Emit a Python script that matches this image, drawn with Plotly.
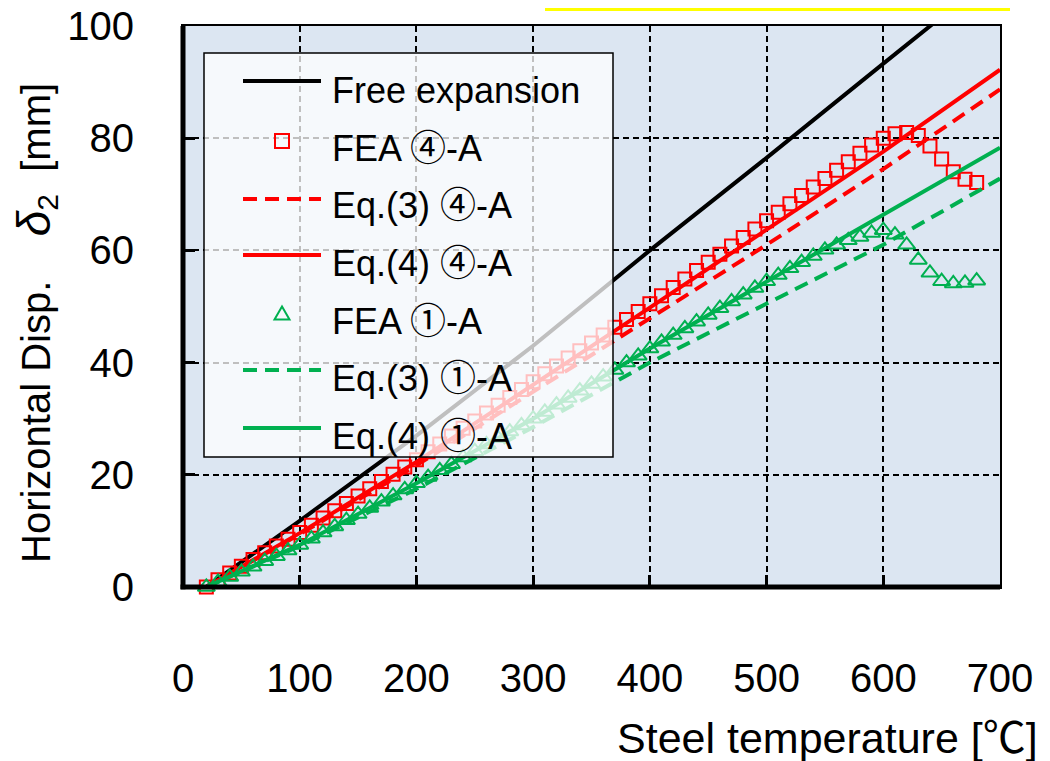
import plotly.graph_objects as go

# ---------------- data ----------------
temp_eq = [20, 100, 200, 300, 400, 500, 600, 700]
free_exp = [0.0, 11.8, 27.0, 43.0, 60.0, 76.5, 93.3, 110.0]
eq3_4A = [0.0, 9.4, 21.7, 34.8, 47.8, 61.0, 74.5, 88.7]
eq4_4A = [0.0, 9.6, 22.3, 36.0, 49.8, 63.7, 77.6, 92.2]
eq3_1A = [0.0, 7.3, 17.5, 28.5, 40.0, 50.5, 61.0, 72.8]
eq4_1A = [0.0, 7.5, 18.5, 30.0, 42.5, 54.5, 66.3, 78.3]

temp_fea = [20, 30, 40, 50, 60, 70, 80, 90, 100, 110, 120, 130, 140, 150, 160,
            170, 180, 190, 200, 210, 220, 230, 240, 250, 260, 270, 280, 290, 300,
            310, 320, 330, 340, 350, 360, 370, 380, 390, 400, 410, 420, 430, 440,
            450, 460, 470, 480, 490, 500, 510, 520, 530, 540, 550, 560, 570, 580,
            590, 600, 610, 620, 630, 640, 650, 660, 670, 680]
fea_4A = [0.0, 1.3, 2.5, 3.7, 4.9, 6.1, 7.3, 8.5, 9.7, 11.0, 12.3, 13.6, 14.9, 16.2,
          17.5, 18.8, 20.1, 21.4, 22.7, 24.1, 25.5, 26.9, 28.3, 29.6, 31.0, 32.4,
          33.8, 35.2, 36.6, 38.0, 39.4, 40.8, 42.1, 43.5, 44.9, 46.3, 47.7, 49.1,
          50.5, 51.9, 53.4, 54.9, 56.4, 57.9, 59.3, 60.8, 62.3, 63.8, 65.3, 66.8,
          68.3, 69.8, 71.3, 72.8, 74.3, 75.8, 77.3, 78.8, 80.0, 80.8, 81.0, 80.5,
          78.6, 76.3, 74.0, 72.7, 72.1]
fea_1A = [0.0, 0.9, 1.8, 2.7, 3.6, 4.6, 5.5, 6.5, 7.5, 8.6, 9.7, 10.8, 11.9, 13.0,
          14.1, 15.2, 16.3, 17.4, 18.5, 19.6, 20.8, 21.9, 23.1, 24.2, 25.4, 26.5,
          27.7, 28.8, 30.0, 31.2, 32.5, 33.7, 35.0, 36.2, 37.5, 38.7, 40.0, 41.2,
          42.5, 43.7, 44.9, 46.1, 47.3, 48.5, 49.7, 50.9, 52.1, 53.3, 54.5, 55.6,
          56.8, 57.9, 59.0, 60.1, 61.0, 61.8, 62.4, 63.1, 63.6, 62.8, 61.0, 58.3,
          56.0, 54.5, 54.1, 54.2, 54.6]

names = ["Free expansion", "FEA ④-A", "Eq.(3) ④-A", "Eq.(4) ④-A",
         "FEA ①-A", "Eq.(3) ①-A", "Eq.(4) ①-A"]
x_ticks = [0, 100, 200, 300, 400, 500, 600, 700]
y_ticks = [0, 20, 40, 60, 80, 100]

# ---------------- style ----------------
RED = "#ff0000"
GREEN = "#00b050"
BLACK = "#000000"
FONT = "Liberation Sans, Arial, Noto Sans CJK JP, DejaVu Sans, sans-serif"
DASH = "14px,8px"

W_PX, H_PX = 1050, 761
PAGE_OFF = 8               # browser body margin
PL, PT, PW, PH = 183, 26, 817, 561   # plot area in page pixels
L, T = PL - PAGE_OFF, PT - PAGE_OFF


def px(x):
    return (x - PL) / PW


def py(y):
    return (PT + PH - y) / PH


fig = go.Figure()
fig.add_trace(go.Scatter(x=temp_eq, y=free_exp, mode="lines", name=names[0],
                         line=dict(color=BLACK, width=4)))
fig.add_trace(go.Scatter(x=temp_fea, y=fea_4A, mode="markers", name=names[1],
                         cliponaxis=False,
                         marker=dict(symbol="square-open", size=13, color=RED,
                                     line=dict(width=2, color=RED))))
fig.add_trace(go.Scatter(x=temp_eq, y=eq3_4A, mode="lines", name=names[2],
                         line=dict(color=RED, width=4, dash=DASH)))
fig.add_trace(go.Scatter(x=temp_eq, y=eq4_4A, mode="lines", name=names[3],
                         line=dict(color=RED, width=4)))
fig.add_trace(go.Scatter(x=temp_fea, y=fea_1A, mode="markers", name=names[4],
                         cliponaxis=False,
                         marker=dict(symbol="triangle-up-open", size=15, color=GREEN,
                                     line=dict(width=2, color=GREEN))))
fig.add_trace(go.Scatter(x=temp_eq, y=eq3_1A, mode="lines", name=names[5],
                         line=dict(color=GREEN, width=4, dash=DASH)))
fig.add_trace(go.Scatter(x=temp_eq, y=eq4_1A, mode="lines", name=names[6],
                         line=dict(color=GREEN, width=4)))

axis_common = dict(
    showgrid=True, gridcolor=BLACK, gridwidth=1.5, griddash="6px,4px",
    showline=True, linecolor=BLACK, linewidth=2, mirror=True,
    ticks="inside", ticklen=12, tickwidth=2.5, tickcolor=BLACK,
    tickfont=dict(family=FONT, size=40, color=BLACK), zeroline=False,
    ticklabeloverflow="allow",
)
fig.update_xaxes(range=[0, 700], tickvals=x_ticks, ticklabelstandoff=55, **axis_common)
fig.update_yaxes(range=[0, 100], tickvals=y_ticks, ticklabelstandoff=39, **axis_common)

shapes = []
# thick left / bottom axis lines
shapes.append(dict(type="line", xref="paper", yref="paper", x0=0, x1=0, y0=-0.004, y1=1,
                   line=dict(color=BLACK, width=5), layer="above"))
shapes.append(dict(type="line", xref="paper", yref="paper", x0=-0.003, x1=1, y0=0, y1=0,
                   line=dict(color=BLACK, width=5), layer="above"))
# yellow strip at the very top of the figure
shapes.append(dict(type="rect", xref="paper", yref="paper", x0=px(545), x1=px(1010),
                   y0=py(PAGE_OFF + 3), y1=py(PAGE_OFF), fillcolor="#ffff00",
                   line=dict(width=0), layer="above"))
# legend box
shapes.append(dict(type="rect", xref="paper", yref="paper", x0=px(204), x1=px(613),
                   y0=py(457), y1=py(53), fillcolor="rgba(255,255,255,0.75)",
                   line=dict(color=BLACK, width=1.5), layer="above"))

leg_line_y = [81, None, 199, 255, None, 370, 428]
leg_text_y = [90, 148, 206, 263, 321, 378, 436]
leg_style = [(BLACK, "solid"), None, (RED, DASH), (RED, "solid"), None,
             (GREEN, DASH), (GREEN, "solid")]
for i, ly in enumerate(leg_line_y):
    if ly is None:
        continue
    c, d = leg_style[i]
    shapes.append(dict(type="line", xref="paper", yref="paper", x0=px(243), x1=px(321),
                       y0=py(ly), y1=py(ly), line=dict(color=c, width=4, dash=d),
                       layer="above"))
# legend square marker
shapes.append(dict(type="rect", xref="paper", yref="paper", x0=px(275), x1=px(289),
                   y0=py(148), y1=py(134), line=dict(color=RED, width=2),
                   fillcolor="rgba(0,0,0,0)", layer="above"))
# legend triangle marker
tri = "M {:.5f},{:.5f} L {:.5f},{:.5f} L {:.5f},{:.5f} Z".format(
    px(274.5), py(319.5), px(289.5), py(319.5), px(282), py(306.5))
shapes.append(dict(type="path", xref="paper", yref="paper", path=tri,
                   line=dict(color=GREEN, width=2), fillcolor="rgba(0,0,0,0)",
                   layer="above"))

annotations = []
for i, name in enumerate(names):
    annotations.append(dict(text=name, xref="paper", yref="paper", x=px(330),
                            y=py(leg_text_y[i]), xanchor="left", yanchor="middle",
                            showarrow=False, font=dict(family=FONT, size=36, color=BLACK)))
annotations.append(dict(text="Steel temperature [℃]", xref="paper", yref="paper",
                        x=px(1040), y=py(738), xanchor="right", yanchor="middle",
                        showarrow=False, font=dict(family=FONT, size=43, color=BLACK)))
ytitle = ("Horizontal Disp.\u00a0\u00a0\u00a0\u00a0"
          "<i><span style='font-size:46px'>δ</span></i>"
          "<sub><span style='font-size:30px'>2</span></sub>\u00a0\u00a0[mm]")
annotations.append(dict(text=ytitle, xref="paper", yref="paper", x=px(36), y=py(323),
                        xanchor="center", yanchor="middle", textangle=-90,
                        showarrow=False, font=dict(family=FONT, size=40, color=BLACK)))

fig.update_layout(
    width=W_PX, height=H_PX,
    margin=dict(l=L, r=W_PX - L - PW, t=T, b=H_PX - T - PH, autoexpand=False),
    plot_bgcolor="#dce6f2", paper_bgcolor="#ffffff",
    showlegend=False, shapes=shapes, annotations=annotations,
    font=dict(family=FONT, color=BLACK),
)

fig.write_html("out.html")
